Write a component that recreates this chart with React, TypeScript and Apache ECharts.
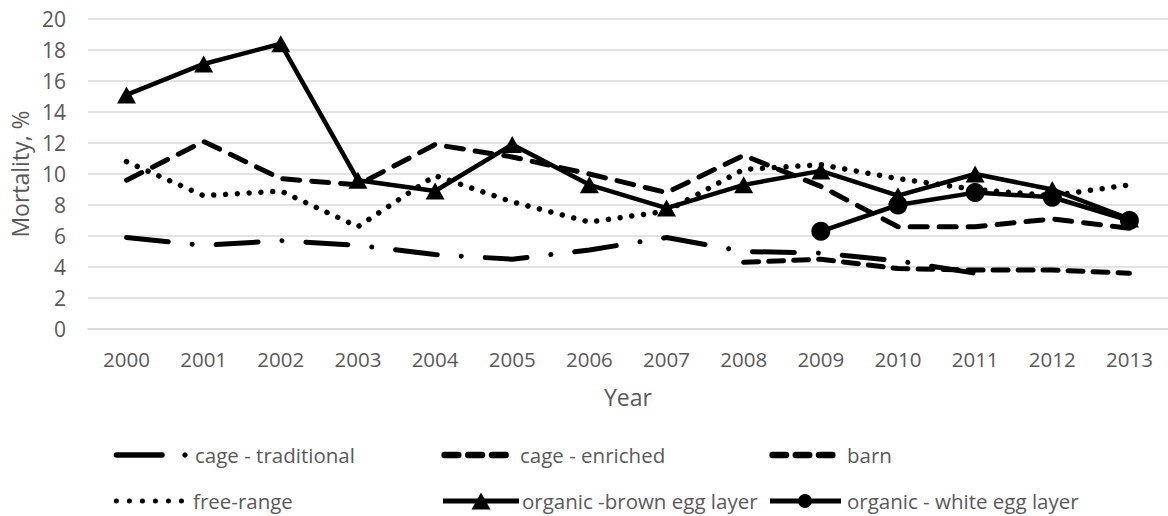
import React, { useEffect, useRef } from "react";
import * as echarts from "echarts";

const years = ["2000", "2001", "2002", "2003", "2004", "2005", "2006", "2007", "2008", "2009", "2010", "2011", "2012", "2013"];
const cageTraditional = [5.9, 5.4, 5.7, 5.4, 4.8, 4.5, 5.1, 5.9, 5.0, 4.9, 4.4, 3.6, null, null];
const cageEnriched = [null, null, null, null, null, null, null, null, 4.3, 4.5, 3.9, 3.8, 3.8, 3.6];
const barn = [9.6, 12.1, 9.7, 9.3, 11.9, 11.1, 10.0, 8.8, 11.2, 9.2, 6.6, 6.6, 7.1, 6.5];
const freeRange = [10.8, 8.6, 8.9, 6.6, 9.9, 8.2, 6.9, 7.6, 10.3, 10.6, 9.7, 9.0, 8.6, 9.3];
const organicBrown = [15.1, 17.1, 18.4, 9.6, 8.9, 11.9, 9.3, 7.8, 9.3, 10.2, 8.6, 10.0, 9.0, 7.1];
const organicWhite = [null, null, null, null, null, null, null, null, null, 6.3, 8.0, 8.8, 8.5, 7.0];
const seriesNames = [
  "cage - traditional",
  "cage - enriched",
  "barn",
  "free-range",
  "organic -brown egg layer",
  "organic - white egg layer",
];
const yTicks = { min: 0, max: 20, interval: 2 };

const FONT = '"Open Sans", sans-serif';
const TXT = "#595959";
const GRID = "#d9d9d9";

export default function App() {
  const ref = useRef<HTMLDivElement>(null);
  useEffect(() => {
    if (!ref.current) return;
    const chart = echarts.init(ref.current, null, { renderer: "svg" });
    const legendText = (x: number, y: number, text: string) => ({
      type: "text",
      x,
      y,
      style: { text, fill: TXT, fontSize: 20.5, fontFamily: FONT, verticalAlign: "middle", align: "left" },
    });
    const r1 = 455;
    const r2 = 501;
    const graphic: any[] = [
      // cage - traditional
      { type: "line", shape: { x1: 116.5, y1: r1, x2: 162, y2: r1 }, style: { stroke: "#000", lineWidth: 5.5, lineCap: "round" } },
      { type: "circle", shape: { cx: 185, cy: r1, r: 2.7 }, style: { fill: "#000" } },
      legendText(195, r1, seriesNames[0]),
      // cage - enriched
      { type: "line", shape: { x1: 444.6, y1: r1, x2: 505.6, y2: r1 }, style: { stroke: "#000", lineWidth: 6.5, lineCap: "round", lineDash: [13.7, 10] } },
      legendText(520, r1, seriesNames[1]),
      // barn
      { type: "line", shape: { x1: 772.6, y1: r1, x2: 832.3, y2: r1 }, style: { stroke: "#000", lineWidth: 6.5, lineCap: "round", lineDash: [13.4, 9.8] } },
      legendText(847, r1, seriesNames[2]),
      // free-range
      { type: "line", shape: { x1: 116.4, y1: r2, x2: 181.5, y2: r2 }, style: { stroke: "#000", lineWidth: 5, lineCap: "round", lineDash: [0.01, 13] } },
      legendText(193, r2, seriesNames[3]),
      // organic brown
      { type: "line", shape: { x1: 443, y1: r2, x2: 519, y2: r2 }, style: { stroke: "#000", lineWidth: 5 } },
      { type: "polygon", shape: { points: [[481, r2 - 8.5], [471.5, r2 + 8.5], [490.5, r2 + 8.5]] }, style: { fill: "#000" } },
      legendText(522, r2, seriesNames[4]),
      // organic white
      { type: "line", shape: { x1: 770, y1: r2, x2: 841, y2: r2 }, style: { stroke: "#000", lineWidth: 5 } },
      { type: "circle", shape: { cx: 805, cy: r2, r: 7 }, style: { fill: "#000" } },
      legendText(847, r2, seriesNames[5]),
    ];

    chart.setOption({
      animation: false,
      textStyle: { fontFamily: FONT },
      grid: { left: 84, right: 0, top: 19, bottom: 187, containLabel: false },
      xAxis: {
        type: "category",
        data: years,
        boundaryGap: true,
        name: "Year",
        nameLocation: "middle",
        nameGap: 56,
        nameTextStyle: { fontSize: 23, color: TXT, fontFamily: FONT },
        axisLine: { lineStyle: { color: GRID, width: 1.5 } },
        axisTick: { inside: true, length: 7, lineStyle: { color: GRID, width: 1.5 } },
        axisLabel: { fontSize: 20.5, color: TXT, margin: 19, fontFamily: FONT },
        splitLine: { show: false },
      },
      yAxis: {
        type: "value",
        min: yTicks.min,
        max: yTicks.max,
        interval: yTicks.interval,
        name: "Mortality, %",
        nameLocation: "middle",
        nameGap: 52,
        nameTextStyle: { fontSize: 23, color: TXT, fontFamily: FONT },
        axisLine: { show: false },
        axisTick: { show: false },
        axisLabel: { fontSize: 21, color: TXT, margin: 22, fontFamily: FONT },
        splitLine: { lineStyle: { color: GRID, width: 1.5 } },
      },
      series: [
        {
          name: seriesNames[0],
          type: "line",
          data: cageTraditional,
          symbol: "none",
          lineStyle: { color: "#000", width: 5, type: [42, 24, 0.01, 24], cap: "round" },
          z: 2,
        },
        {
          name: seriesNames[1],
          type: "line",
          data: cageEnriched,
          symbol: "none",
          lineStyle: { color: "#000", width: 5, type: [15, 10], cap: "round" },
          z: 2,
        },
        {
          name: seriesNames[2],
          type: "line",
          data: barn,
          symbol: "none",
          lineStyle: { color: "#000", width: 5, type: [17, 12], cap: "round" },
          z: 2,
        },
        {
          name: seriesNames[3],
          type: "line",
          data: freeRange,
          symbol: "none",
          lineStyle: { color: "#000", width: 5.5, type: [0.01, 11.8], cap: "round" },
          z: 2,
        },
        {
          name: seriesNames[4],
          type: "line",
          data: organicBrown,
          symbol: "triangle",
          symbolSize: [19, 17],
          itemStyle: { color: "#000" },
          lineStyle: { color: "#000", width: 4.5 },
          z: 3,
        },
        {
          name: seriesNames[5],
          type: "line",
          data: organicWhite,
          symbol: "circle",
          symbolSize: 19,
          itemStyle: { color: "#000" },
          lineStyle: { color: "#000", width: 4.5 },
          z: 4,
        },
      ],
      graphic,
    });
    return () => chart.dispose();
  }, []);
  return <div ref={ref} style={{ position: "absolute", left: 0, top: 0, width: 1168, height: 516 }} />;
}
